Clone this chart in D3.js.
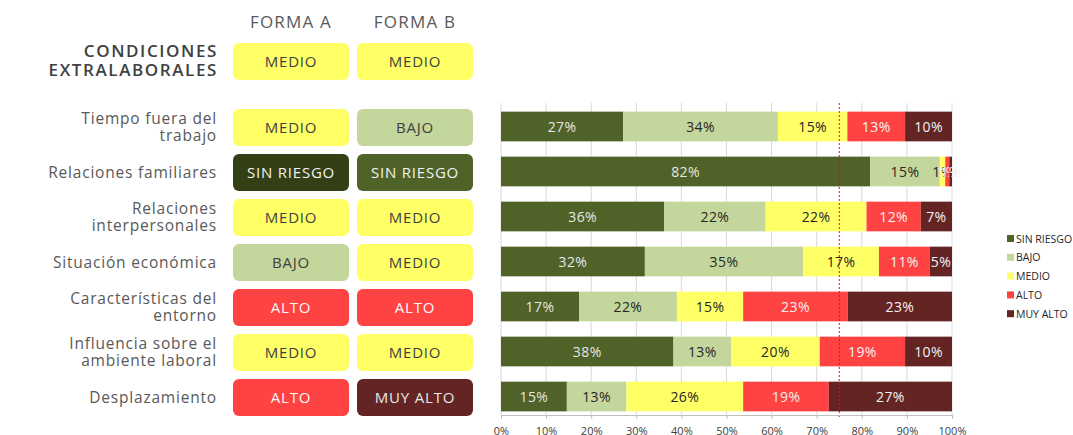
<!DOCTYPE html>
<html>
<head>
<meta charset="utf-8">
<script src="https://cdn.jsdelivr.net/npm/d3@7"></script>
<style>
  body { margin: 0; background: #fff; }
  svg { display: block; font-family: "Open Sans", sans-serif; }
</style>
</head>
<body>
<div id="chart"></div>
<script>
// categorias (una linea por elemento del array)
var categories = [
    ["Tiempo fuera del", "trabajo"],
    ["Relaciones familiares"],
    ["Relaciones", "interpersonales"],
    ["Situación económica"],
    ["Características del", "entorno"],
    ["Influencia sobre el", "ambiente laboral"],
    ["Desplazamiento"]
];
var seriesNames = ["SIN RIESGO", "BAJO", "MEDIO", "ALTO", "MUY ALTO"];
var sinRiesgo = [27.1, 81.7, 36.1, 31.9, 17.3, 38.2, 14.6];
var bajo      = [34.3, 15.4, 22.4, 35.1, 21.7, 12.8, 13.2];
var medio     = [15.4, 1.2, 22.3, 16.8, 14.7, 19.6, 25.9];
var alto      = [12.8, 0.9, 12.0, 11.3, 23.2, 18.9, 19.0];
var muyAlto   = [10.4, 0.6, 6.9, 4.9, 23.1, 10.4, 27.3];
var formaA = ["MEDIO", "SIN RIESGO", "MEDIO", "BAJO", "ALTO", "MEDIO", "ALTO"];
var formaB = ["BAJO", "SIN RIESGO", "MEDIO", "MEDIO", "ALTO", "MEDIO", "MUY ALTO"];
var totalA = "MEDIO", totalB = "MEDIO";
var tickValues = [0, 0.1, 0.2, 0.3, 0.4, 0.5, 0.6, 0.7, 0.8, 0.9, 1];
var referencia = 0.75;

var colors = {"SIN RIESGO": "#4f6228", "BAJO": "#c3d69b", "MEDIO": "#ffff66", "ALTO": "#ff4343", "MUY ALTO": "#632423"};
var labelColors = {"SIN RIESGO": "#e6e6e6", "BAJO": "#262626", "MEDIO": "#262626", "ALTO": "#f2f2f2", "MUY ALTO": "#f2f2f2"};
var badgeText = {"SIN RIESGO": "#f2f2f2", "BAJO": "#404040", "MEDIO": "#404040", "ALTO": "#f8f8f8", "MUY ALTO": "#e8e8e8"};

var svg = d3.select("#chart").append("svg")
    .attr("width", 1073)
    .attr("height", 435);

// tabla para el apilado
var table = categories.map(function (c, i) {
    var tot = sinRiesgo[i] + bajo[i] + medio[i] + alto[i] + muyAlto[i];
    return {"i": i, "SIN RIESGO": sinRiesgo[i] / tot, "BAJO": bajo[i] / tot, "MEDIO": medio[i] / tot,
            "ALTO": alto[i] / tot, "MUY ALTO": muyAlto[i] / tot,
            raw: [sinRiesgo[i], bajo[i], medio[i], alto[i], muyAlto[i]]};
});
var stacked = d3.stack().keys(seriesNames)(table);

var x = d3.scaleLinear().domain([0, 1]).range([501, 952]);
var y = d3.scaleBand().domain(d3.range(categories.length)).range([104, 419])
    .paddingInner(0.34).paddingOuter(0.17);

// rejilla
svg.append("g").selectAll("line")
    .data(tickValues)
    .enter().append("line")
    .attr("x1", function (d) { return x(d); })
    .attr("x2", function (d) { return x(d); })
    .attr("y1", 103).attr("y2", 415)
    .attr("stroke", "#d9d9d9").attr("stroke-width", 1);

var groups = svg.append("g").selectAll("g")
    .data(stacked)
    .enter().append("g")
    .attr("fill", function (d) { return colors[d.key]; });

groups.selectAll("rect")
    .data(function (d) { return d; })
    .enter().append("rect")
    .attr("x", function (d) { return x(d[0]); })
    .attr("width", function (d) { return x(d[1]) - x(d[0]); })
    .attr("y", function (d) { return y(d.data.i); })
    .attr("height", y.bandwidth());

groups.each(function (s, k) {
    d3.select(this).selectAll("text")
        .data(s)
        .enter().append("text")
        .attr("x", function (d) { return (x(d[0]) + x(d[1])) / 2; })
        .attr("y", function (d) { return y(d.data.i) + y.bandwidth() / 2 + 5; })
        .attr("text-anchor", "middle")
        .attr("font-size", 14)
        .attr("letter-spacing", 0.4)
        .attr("fill", labelColors[s.key])
        .text(function (d) { return Math.round(d.data.raw[k]) + "%"; });
});

// linea de referencia
svg.append("line")
    .attr("x1", x(referencia)).attr("x2", x(referencia))
    .attr("y1", 103).attr("y2", 418)
    .attr("stroke", "#ff0000").attr("stroke-width", 1)
    .attr("stroke-dasharray", "2,2");

// eje
var axis = svg.append("g")
    .attr("transform", "translate(0,415)")
    .call(d3.axisBottom(x).tickValues(tickValues).tickSize(4).tickPadding(8).tickFormat(d3.format(".0%")));
axis.select(".domain").attr("stroke", "#bfbfbf");
axis.selectAll(".tick line").attr("stroke", "#bfbfbf");
axis.selectAll("text").attr("fill", "#404040").attr("font-size", 11).attr("font-family", "Open Sans, sans-serif");

// leyenda
var legend = svg.append("g").selectAll("g")
    .data(seriesNames)
    .enter().append("g")
    .attr("transform", function (d, i) { return "translate(1007," + (235 + i * 18.8) + ")"; });
legend.append("rect").attr("width", 7).attr("height", 7).attr("fill", function (d) { return colors[d]; });
legend.append("text").attr("x", 9).attr("y", 7.5).attr("font-size", 10.5).attr("fill", "#262626")
    .text(function (d) { return d; });

// etiquetas izquierdas
var rowLabels = svg.append("g").selectAll("text")
    .data(categories)
    .enter().append("text")
    .attr("text-anchor", "end")
    .attr("font-size", 15.5)
    .attr("letter-spacing", 0.8)
    .attr("fill", "#595959")
    .attr("y", function (d, i) { return y(i) + y.bandwidth() / 2 + 6 - (d.length - 1) * 8.5; });
rowLabels.selectAll("tspan")
    .data(function (d) { return d; })
    .enter().append("tspan")
    .attr("x", 217)
    .attr("dy", function (d, j) { return j ? 17 : 0; })
    .text(function (d) { return d; });

svg.append("text").attr("text-anchor", "end").attr("font-size", 17).attr("font-weight", 600)
    .attr("letter-spacing", 1.6).attr("fill", "#404040")
    .selectAll("tspan").data(["CONDICIONES", "EXTRALABORALES"]).enter().append("tspan")
    .attr("x", 218).attr("y", function (d, j) { return 57 + j * 19; }).text(function (d) { return d; });

// encabezados y badges
var colX = [233, 357], badgeW = 116, badgeH = 37;
svg.selectAll(".head").data(["FORMA A", "FORMA B"]).enter().append("text")
    .attr("x", function (d, j) { return colX[j] + badgeW / 2; })
    .attr("y", 28).attr("text-anchor", "middle").attr("font-size", 17).attr("letter-spacing", 1.2)
    .attr("fill", "#595959")
    .text(function (d) { return d; });

function badge(level, cx, cy, j) {
    var fill = colors[level];
    if (level === "SIN RIESGO" && j === 0) fill = "#333f14";
    svg.append("rect").attr("x", cx).attr("y", cy - badgeH / 2).attr("width", badgeW).attr("height", badgeH)
        .attr("rx", 6).attr("fill", fill);
    svg.append("text").attr("x", cx + badgeW / 2).attr("y", cy + 5).attr("text-anchor", "middle")
        .attr("font-size", 15).attr("letter-spacing", 0.8)
        .attr("fill", badgeText[level]).text(level);
}
badge(totalA, colX[0], 61.5, 0);
badge(totalB, colX[1], 61.5, 1);
formaA.forEach(function (lv, i) { badge(lv, colX[0], y(i) + y.bandwidth() / 2 + 1, 0); });
formaB.forEach(function (lv, i) { badge(lv, colX[1], y(i) + y.bandwidth() / 2 + 1, 1); });
</script>
</body>
</html>
